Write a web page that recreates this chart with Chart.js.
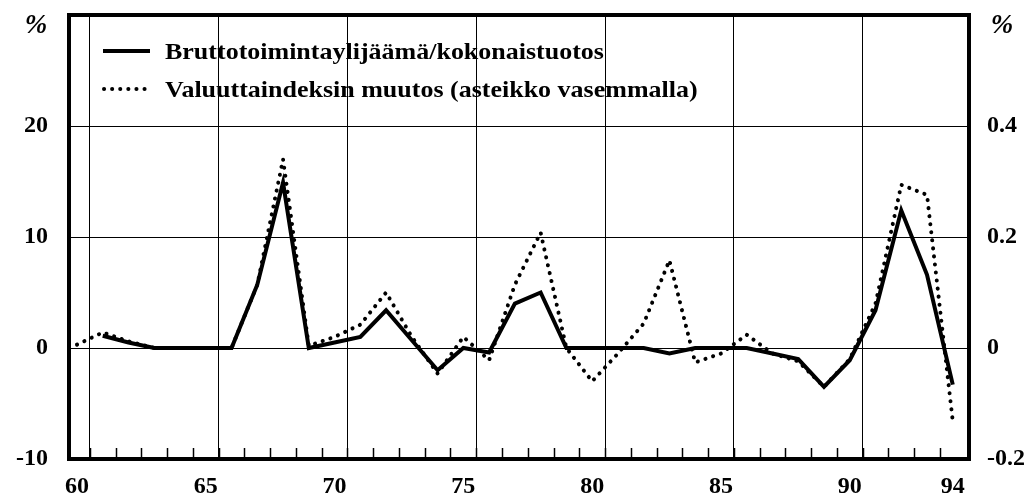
<!DOCTYPE html>
<html>
<head>
<meta charset="utf-8">
<script src="https://cdn.jsdelivr.net/npm/chart.js@4/dist/chart.umd.min.js"></script>
<style>
  html, body { margin: 0; padding: 0; background: #fff; }
  #wrap { width: 1033px; height: 501px; }
</style>
</head>
<body>
<div id="wrap"><canvas id="chart"></canvas></div>
<script>
'use strict';

var years = [60, 61, 62, 63, 64, 65, 66, 67, 68, 69,
             70, 71, 72, 73, 74, 75, 76, 77, 78, 79,
             80, 81, 82, 83, 84, 85, 86, 87, 88, 89,
             90, 91, 92, 93, 94];

// Bruttotoimintaylijäämä/kokonaistuotos, right scale (%)
var surplus = [null, 0.022, 0.01, 0, 0, 0, 0, 0.114, 0.298, 0,
               0.01, 0.02, 0.068, 0.014, -0.04, 0, -0.008, 0.08, 0.10, 0,
               0, 0, 0, -0.01, 0, 0, 0, -0.01, -0.02, -0.07,
               -0.022, 0.068, 0.248, 0.132, -0.066];

// Valuuttaindeksin muutos, left scale (%)
var currency = [0.3, 1.4, 0.6, 0, 0, 0, 0, 5.7, 17.0, 0.2,
                1.0, 2.1, 5.0, 1.0, -2.3, 1.0, -1.1, 5.7, 10.4, 0,
                -3.0, -0.5, 2.2, 7.9, -1.3, -0.5, 1.2, -0.5, -1.2, -3.5,
                -1.0, 4.0, 14.7, 13.8, -6.6];

var xLabelYears = [60, 65, 70, 75, 80, 85, 90, 94];
var xGridYears = [60.5, 65.5, 70.5, 75.5, 80.5, 85.5, 90.5];
var leftTicks = [-10, 0, 10, 20];
var rightTicks = [-0.2, 0, 0.2, 0.4];

var seriesLabels = ['Bruttotoimintaylijäämä/kokonaistuotos',
                    'Valuuttaindeksin muutos (asteikko vasemmalla)'];

var tickFont = { family: '"Liberation Serif", "Times New Roman", serif', size: 24, weight: 'bold' };

function setTicks(values) {
    return function (scale) {
        scale.ticks = values.map(function (v) { return { value: v }; });
    };
}

// fixed axis sizes, no extra room for overhanging labels
function fixSize(w, h) {
    return function (scale) {
        if (w !== null) { scale.width = w; }
        if (h !== null) { scale.height = h; }
        scale.paddingTop = 0;
        scale.paddingBottom = 0;
        scale.paddingLeft = 0;
        scale.paddingRight = 0;
    };
}

var framePlugin = {
    id: 'frameAndLegend',
    afterDraw: function (chart) {
        var ctx = chart.ctx,
            area = chart.chartArea,
            xs = chart.scales.x;
        ctx.save();

        // small year ticks along the bottom, pointing inwards
        ctx.strokeStyle = '#000';
        ctx.lineWidth = 1.5;
        years.slice(1).forEach(function (y) {
            var px = Math.round(xs.getPixelForValue(y - 0.5)) + 0.5;
            ctx.beginPath();
            ctx.moveTo(px, area.bottom);
            ctx.lineTo(px, area.bottom - 11);
            ctx.stroke();
        });

        // heavy frame
        ctx.lineWidth = 4;
        ctx.strokeRect(area.left, area.top, area.right - area.left, area.bottom - area.top);

        // legend
        var rows = [59, 97];
        chart.data.datasets.forEach(function (ds, i) {
            var yMid = rows[i] - 8;
            ctx.save();
            ctx.strokeStyle = ds.borderColor;
            ctx.lineWidth = ds.borderWidth;
            ctx.lineCap = ds.borderCapStyle || 'butt';
            ctx.setLineDash(ds.borderDash || []);
            ctx.beginPath();
            ctx.moveTo(i === 0 ? 103 : 104, yMid);
            ctx.lineTo(150, yMid);
            ctx.stroke();
            ctx.restore();

            ctx.save();
            ctx.translate(165, rows[i]);
            ctx.scale(1.13, 1);
            ctx.fillStyle = '#000';
            ctx.font = 'bold 23px "Liberation Serif", "Times New Roman", serif';
            ctx.textBaseline = 'alphabetic';
            ctx.fillText(ds.label, 0, 0);
            ctx.restore();
        });

        // unit marks
        ctx.fillStyle = '#000';
        ctx.font = 'italic bold 27px "Liberation Serif", "Times New Roman", serif';
        ctx.textAlign = 'center';
        ctx.textBaseline = 'middle';
        ctx.fillText('%', 36, 26);
        ctx.fillText('%', 1002, 26);
        ctx.restore();
    }
};

new Chart(document.getElementById('chart'), {
    type: 'line',
    data: {
        datasets: [
            {
                label: seriesLabels[0],
                data: years.map(function (y, i) { return { x: y, y: surplus[i] }; }),
                yAxisID: 'y2',
                borderColor: '#000',
                borderWidth: 4,
                borderJoinStyle: 'miter',
                pointRadius: 0,
                tension: 0,
                fill: false
            },
            {
                label: seriesLabels[1],
                data: years.map(function (y, i) { return { x: y, y: currency[i] }; }),
                yAxisID: 'y',
                borderColor: '#000',
                borderWidth: 4,
                borderDash: [0.1, 8],
                borderCapStyle: 'round',
                pointRadius: 0,
                tension: 0,
                fill: false
            }
        ]
    },
    options: {
        responsive: true,
        maintainAspectRatio: false,
        animation: false,
        layout: { padding: { top: 15, left: 0, right: 0, bottom: 0 } },
        plugins: {
            legend: { display: false },
            tooltip: { enabled: false }
        },
        scales: {
            x: {
                type: 'linear',
                min: 59.69,
                max: 94.63,
                afterBuildTicks: setTicks(xLabelYears.concat(xGridYears).sort(function (a, b) { return a - b; })),
                afterFit: fixSize(null, 42),
                border: { display: false },
                grid: {
                    drawTicks: false,
                    color: function (c) {
                        return c.tick && xGridYears.indexOf(c.tick.value) >= 0 ? '#000' : 'rgba(0,0,0,0)';
                    },
                    lineWidth: 1
                },
                ticks: {
                    autoSkip: false,
                    maxRotation: 0,
                    padding: 13,
                    color: '#000',
                    font: tickFont,
                    callback: function (v) { return xLabelYears.indexOf(v) >= 0 ? String(v) : ''; }
                }
            },
            y: {
                position: 'left',
                min: -10,
                max: 30,
                afterBuildTicks: setTicks(leftTicks),
                afterFit: fixSize(69, null),
                border: { display: false },
                grid: { drawTicks: false, color: '#000', lineWidth: 1 },
                ticks: { padding: 21, color: '#000', font: tickFont }
            },
            y2: {
                position: 'right',
                min: -0.2,
                max: 0.6,
                afterBuildTicks: setTicks(rightTicks),
                afterFit: fixSize(64, null),
                border: { display: false },
                grid: { display: false, drawTicks: false },
                ticks: {
                    padding: 18,
                    color: '#000',
                    font: tickFont,
                    callback: function (v) { return v === 0 ? '0' : v.toFixed(1); }
                }
            }
        }
    },
    plugins: [framePlugin]
});
</script>
</body>
</html>
